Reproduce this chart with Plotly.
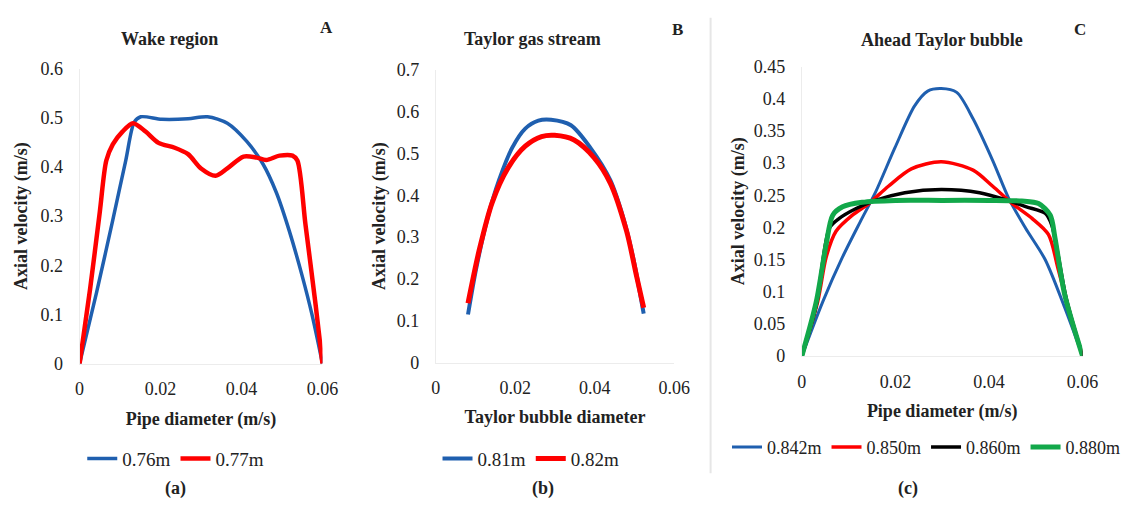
import plotly.graph_objects as go

# ---- (a) Wake region: axial velocity across the pipe diameter ----
wake_x_076 = [0, 0.0042, 0.0082, 0.0114, 0.0135, 0.0151, 0.0203, 0.0268, 0.0316, 0.0365,
              0.0413, 0.0453, 0.0486, 0.0518, 0.0550, 0.0574, 0.0600]
wake_y_076 = [0, 0.145, 0.292, 0.413, 0.491, 0.502, 0.497, 0.498, 0.502, 0.489,
              0.452, 0.406, 0.348, 0.270, 0.178, 0.100, 0]
wake_x_077 = [0, 0.0026, 0.0050, 0.0066, 0.0082, 0.0106, 0.0132, 0.0163, 0.0195, 0.0235,
              0.0268, 0.0300, 0.0336, 0.0365, 0.0405, 0.0437, 0.0461, 0.0494, 0.0526,
              0.0538, 0.0558, 0.0583, 0.0600]
wake_y_077 = [0, 0.152, 0.309, 0.413, 0.446, 0.472, 0.489, 0.472, 0.449, 0.439,
              0.426, 0.397, 0.382, 0.397, 0.421, 0.419, 0.414, 0.423, 0.423,
              0.413, 0.283, 0.120, 0]

# ---- (b) Taylor gas stream ----
gas_x_081 = [0.0081, 0.0101, 0.0130, 0.0159, 0.0192, 0.0225, 0.0258, 0.0290, 0.0340,
             0.0389, 0.0439, 0.0472, 0.0496, 0.0523]
gas_y_081 = [0.115, 0.222, 0.345, 0.436, 0.513, 0.559, 0.578, 0.580, 0.567,
             0.513, 0.436, 0.345, 0.253, 0.117]
gas_x_082 = [0.0081, 0.0109, 0.0142, 0.0183, 0.0225, 0.0266, 0.0299, 0.0348, 0.0398,
             0.0439, 0.0480, 0.0505, 0.0523]
gas_y_082 = [0.142, 0.268, 0.383, 0.467, 0.517, 0.540, 0.543, 0.532, 0.490,
             0.429, 0.314, 0.207, 0.131]

# ---- (c) Ahead of the Taylor bubble ----
ahead_x_0842 = [0, 0.0045, 0.0087, 0.0125, 0.0157, 0.0199, 0.0241, 0.0269, 0.0298, 0.0331,
                0.0366, 0.0408, 0.0443, 0.0478, 0.0520, 0.0562, 0.0600]
ahead_y_0842 = [0, 0.085, 0.154, 0.209, 0.254, 0.324, 0.389, 0.412, 0.416, 0.410,
                0.369, 0.304, 0.244, 0.199, 0.150, 0.075, 0]
ahead_x_0850 = [0, 0.0034, 0.0052, 0.0073, 0.0108, 0.0143, 0.0185, 0.0234, 0.0298, 0.0366,
                0.0408, 0.0450, 0.0492, 0.0527, 0.0548, 0.0577, 0.0600]
ahead_y_0850 = [0, 0.085, 0.154, 0.194, 0.219, 0.237, 0.264, 0.291, 0.302, 0.289,
                0.264, 0.237, 0.214, 0.189, 0.135, 0.055, 0]
ahead_x_0860 = [0, 0.0031, 0.0059, 0.0080, 0.0115, 0.0157, 0.0220, 0.0298, 0.0380, 0.0440,
                0.0480, 0.0520, 0.0534, 0.0565, 0.0600]
ahead_y_0860 = [0, 0.080, 0.199, 0.214, 0.229, 0.242, 0.254, 0.259, 0.254, 0.242,
                0.232, 0.222, 0.204, 0.090, 0]
ahead_x_0880 = [0, 0.0031, 0.0052, 0.0066, 0.0087, 0.0129, 0.0200, 0.0300, 0.0400, 0.0470,
                0.0506, 0.0531, 0.0541, 0.0562, 0.0600]
ahead_y_0880 = [0, 0.085, 0.174, 0.219, 0.232, 0.239, 0.242, 0.242, 0.242, 0.241,
                0.237, 0.219, 0.184, 0.095, 0]

x_ticks = [0, 0.02, 0.04, 0.06]

BLUE = "#1F5FAF"
RED = "#FF0000"
BLACK = "#000000"
GREEN = "#12A84A"
FONT = "Liberation Serif"
W, H = 1127, 512


def px(x):
    return x / W


def py(y):
    return 1 - y / H


def line(x, y, name, color, width, axis, legend):
    return go.Scatter(
        x=x, y=y, name=name, mode="lines",
        line=dict(color=color, width=width, shape="spline", smoothing=0.8),
        xaxis="x" + axis, yaxis="y" + axis, legend=legend, cliponaxis=False,
    )


fig = go.Figure()
fig.add_trace(line(wake_x_076, wake_y_076, "0.76m", BLUE, 3.5, "", "legend"))
fig.add_trace(line(wake_x_077, wake_y_077, "0.77m", RED, 4.5, "", "legend"))
fig.add_trace(line(gas_x_081, gas_y_081, "0.81m", BLUE, 4, "2", "legend2"))
fig.add_trace(line(gas_x_082, gas_y_082, "0.82m", RED, 5, "2", "legend2"))
fig.add_trace(line(ahead_x_0842, ahead_y_0842, "0.842m", BLUE, 3, "3", "legend3"))
fig.add_trace(line(ahead_x_0850, ahead_y_0850, "0.850m", RED, 3.5, "3", "legend3"))
fig.add_trace(line(ahead_x_0860, ahead_y_0860, "0.860m", BLACK, 3.5, "3", "legend3"))
fig.add_trace(line(ahead_x_0880, ahead_y_0880, "0.880m", GREEN, 5, "3", "legend3"))

tick_font = dict(family=FONT, size=18, color="#222")
axis_title_font = dict(family=FONT, size=18, color="#222")


def xaxis(x0, x1, anchor, title, standoff):
    return dict(
        domain=[px(x0), px(x1)], range=[0, 0.06], tickvals=x_ticks,
        anchor=anchor, showgrid=False, zeroline=False, showline=True,
        linecolor="#ececec", linewidth=1, ticks="", tickfont=tick_font,
        ticklabelstandoff=9,
        title=dict(text="<b>" + title + "</b>", font=axis_title_font, standoff=standoff),
    )


def yaxis(y0, y1, rng, dtick, anchor, standoff):
    return dict(
        domain=[py(y0), py(y1)], range=rng, dtick=dtick, tick0=0,
        anchor=anchor, showgrid=False, zeroline=False, showline=True,
        linecolor="#ececec", linewidth=1, ticks="", tickfont=tick_font,
        ticklabelstandoff=12,
        title=dict(text="<b>Axial velocity (m/s)</b>", font=axis_title_font, standoff=standoff),
    )


legend_common = dict(
    orientation="h", xanchor="center", yanchor="middle",
    bgcolor="rgba(0,0,0,0)", itemclick=False, itemdoubleclick=False,
)

fig.update_layout(
    width=W, height=H, margin=dict(l=0, r=0, t=0, b=0),
    paper_bgcolor="white", plot_bgcolor="white",
    font=dict(family=FONT, size=18, color="#222"),
    xaxis=xaxis(76, 323.5, "y", "Pipe diameter (m/s)", 14),
    yaxis=yaxis(368, 61, [0, 0.6], 0.1, "x", 8),
    xaxis2=xaxis(439, 682, "y2", "Taylor bubble diameter", 13),
    yaxis2=yaxis(367, 62, [0, 0.7], 0.1, "x2", 6),
    xaxis3=xaxis(812, 1098, "y3", "Pipe diameter (m/s)", 13),
    yaxis3=yaxis(360, 59, [0, 0.45], 0.05, "x3", 4),
    legend=dict(x=px(174), y=py(467), font=dict(family=FONT, size=19, color="#222"),
                **legend_common),
    legend2=dict(x=px(536), y=py(467), font=dict(family=FONT, size=19, color="#222"),
                 **legend_common),
    legend3=dict(x=px(939), y=py(455), font=dict(family=FONT, size=18, color="#222"),
                 **legend_common),
    showlegend=True,
)

# panel divider on the left of (c)
fig.add_shape(type="line", xref="paper", yref="paper",
              x0=px(719), x1=px(719), y0=py(8), y1=py(482),
              line=dict(color="#e6e6e6", width=2))

# titles, panel letters and captions
texts = [
    ("<b>Wake region</b>", 168, 30, 18),
    ("<b>Taylor gas stream</b>", 538, 30, 18),
    ("<b>Ahead Taylor bubble</b>", 955, 31, 18),
    ("<b>A</b>", 328, 18, 17),
    ("<b>B</b>", 685, 20, 17),
    ("<b>C</b>", 1095, 20, 17),
    ("<b>(a)</b>", 174, 498, 18),
    ("<b>(b)</b>", 548, 498, 18),
    ("<b>(c)</b>", 920, 498, 18),
]
for txt, x, y, size in texts:
    fig.add_annotation(text=txt, x=px(x), y=py(y), xref="paper", yref="paper",
                       showarrow=False, xanchor="center", yanchor="middle",
                       font=dict(family=FONT, size=size, color="#222"))

fig.write_html("out.html")
